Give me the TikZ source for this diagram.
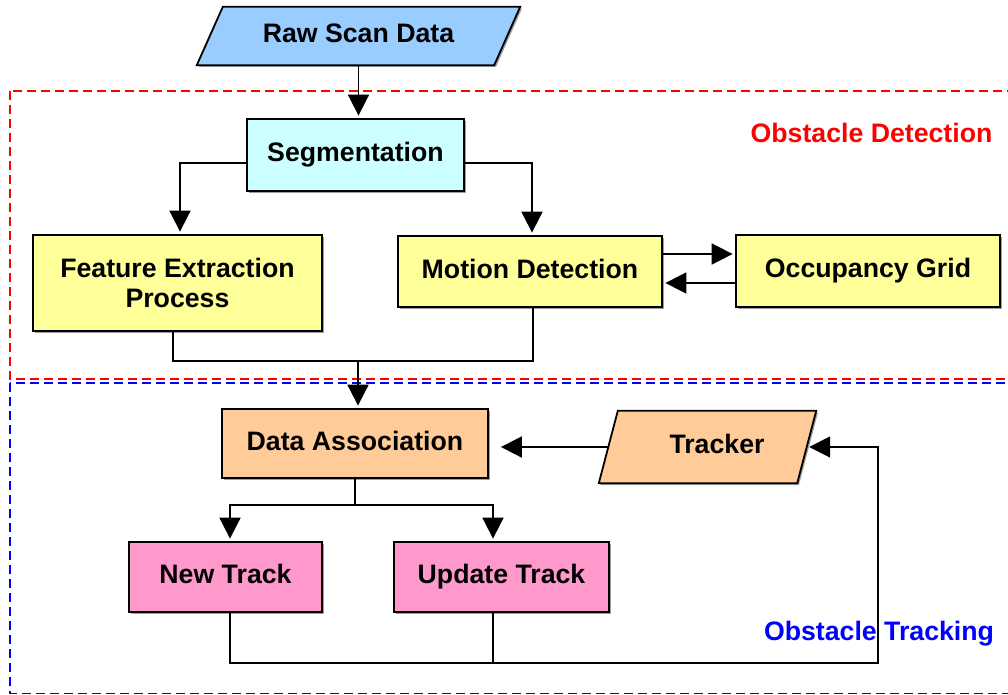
\documentclass[tikz,border=0pt]{standalone}
\usepackage{fontspec}
\setmainfont{Liberation Sans}
\usetikzlibrary{arrows.meta,shadows,backgrounds}

\definecolor{rawblue}{HTML}{99CCFF}
\definecolor{segcyan}{HTML}{CCFFFF}
\definecolor{procyellow}{HTML}{FFFF99}
\definecolor{trackorange}{HTML}{FFCC99}
\definecolor{trackpink}{HTML}{FF99CC}

\begin{document}
\begin{tikzpicture}[x=1pt,y=-1pt,
  font=\fontsize{26.7}{30}\selectfont\bfseries,
  boxshadow/.style={drop shadow={shadow xshift=1.8pt,shadow yshift=-1.8pt,fill=black!55,opacity=.7}},
  proc/.style={draw=black,line width=1.8pt,inner sep=0pt,align=center,boxshadow},
  oneline/.style={text height=19pt,text depth=6pt},
  iobox/.style={inner sep=0pt,align=center,oneline},
  ioshape/.style={draw=black,line width=1.8pt,line join=miter,boxshadow},
  conn/.style={draw=black,line width=1.8pt},
  arr/.style={conn,-{Triangle[length=21pt,width=21pt]},shorten >=2.5pt},
  frame/.style={line width=1.6pt,dash pattern=on 9pt off 5pt},
  title/.style={inner sep=0pt,oneline}
]
\useasboundingbox (0,0) rectangle (1008,695);
\clip (0,0) rectangle (1008,695);

% dashed frames for the two stages
\draw[frame,draw=red] (10,91) rectangle (1030,379);
\draw[frame,draw=blue] (10,383) rectangle (1030,693.5);
\node[title,text=red] (odlabel) at (871.5,136) {Obstacle Detection};
\node[title,text=blue] (otlabel) at (879,634) {Obstacle Tracking};

% input parallelogram
\node[iobox,minimum width=323,minimum height=58] (raw) at (358.5,36) {Raw Scan Data};
\begin{scope}[on background layer]
  \draw[ioshape,fill=rawblue] ([xshift=26]raw.north west) -- (raw.north east)
    -- ([xshift=-26]raw.south east) -- (raw.south west) -- cycle;
\end{scope}

% detection stage
\node[proc,oneline,fill=segcyan,minimum width=217,minimum height=72] (seg) at (355.5,155) {Segmentation};
\node[proc,fill=procyellow,minimum width=289,minimum height=96] (feat) at (177.5,283) {Feature Extraction\\Process};
\node[proc,oneline,fill=procyellow,minimum width=264,minimum height=71] (motion) at (530,271.5) {Motion Detection};
\node[proc,oneline,fill=procyellow,minimum width=264,minimum height=72] (occ) at (868,271) {Occupancy Grid};

% tracking stage
\node[proc,oneline,fill=trackorange,minimum width=266,minimum height=69] (da) at (355,443.5) {Data Association};
\node[iobox,minimum width=217,minimum height=72] (tracker) at (707.5,447) {\hspace*{19pt}Tracker};
\begin{scope}[on background layer]
  \draw[ioshape,fill=trackorange] ([xshift=19]tracker.north west) -- (tracker.north east)
    -- ([xshift=-19]tracker.south east) -- (tracker.south west) -- cycle;
\end{scope}
\node[proc,oneline,fill=trackpink,minimum width=193,minimum height=70] (newt) at (225.5,577) {New Track};
\node[proc,oneline,fill=trackpink,minimum width=215,minimum height=70] (upd) at (501.5,577) {Update Track};

\coordinate (merge) at (358,361);
\coordinate (split) at (357,505);
\coordinate (loop) at (878,663);

% connectors
\draw[arr] (raw.south) -- (raw.south |- seg.north);
\draw[arr] ([yshift=-8]seg.west) -| ([xshift=2.5]feat.north);
\draw[arr] ([yshift=-8]seg.east) -| ([xshift=2]motion.north);
\draw[arr] ([yshift=17.5]motion.east) -- ([yshift=17.5]motion.east -| occ.west);
\draw[arr] ([yshift=-11.5]motion.east -| occ.west) -- ([yshift=-11.5]motion.east);
\draw[conn] ([xshift=-4.5]feat.south) |- (merge) -| ([xshift=3]motion.south);
\draw[arr] (merge) -- (merge |- da.north);
\draw[arr] ([xshift=9.5]tracker.west) -- ([xshift=9.5]tracker.west -| da.east);
\draw[conn] (da.south) -- (da.south |- split);
\draw[arr] (da.south |- split) -| ([xshift=4.5]newt.north);
\draw[arr] (da.south |- split) -| ([xshift=-8.5]upd.north);
\draw[arr] ([xshift=4.5]newt.south) |- (loop) |- ([xshift=-9.5]tracker.east);
\draw[conn] ([xshift=-8.5]upd.south) -- ([xshift=-8.5]upd.south |- loop);
\end{tikzpicture}
\end{document}
